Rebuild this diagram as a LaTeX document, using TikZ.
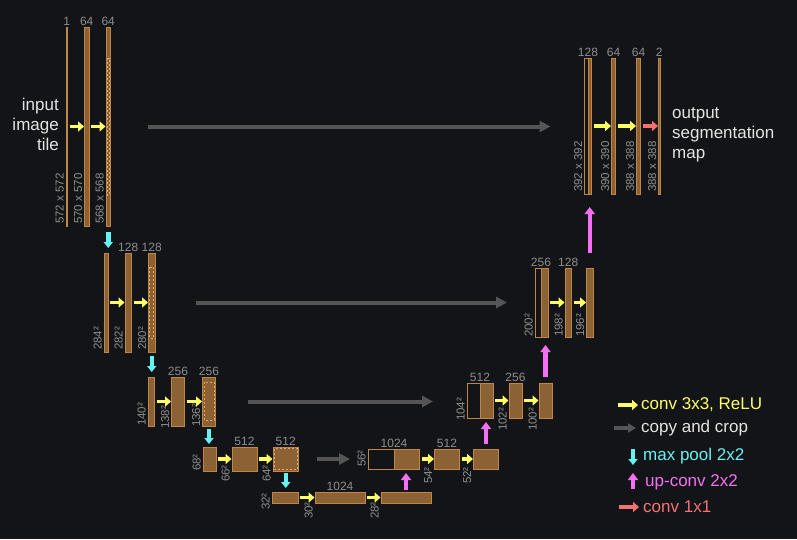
\documentclass[tikz,border=0pt]{standalone}
\usepackage{fontspec}
\setmainfont{Liberation Sans}
\usetikzlibrary{arrows.meta,positioning}

\definecolor{bgc}{HTML}{131418}
\definecolor{fillc}{HTML}{8C6234}
\definecolor{edgec}{HTML}{BF8646}
\definecolor{cropc}{HTML}{DDA967}
\definecolor{numc}{HTML}{8E8E8E}
\definecolor{txtc}{HTML}{E4E4E4}
\definecolor{convc}{HTML}{FFFF66}
\definecolor{copyc}{HTML}{555555}
\definecolor{poolc}{HTML}{66F2F2}
\definecolor{upc}{HTML}{F570F0}
\definecolor{outc}{HTML}{F57272}

\begin{document}
\begin{tikzpicture}[x=1pt,y=-1pt,
    fmap/.style 2 args={draw=edgec,fill=fillc,line width=0.8pt,inner sep=0pt,
      outer sep=0pt,minimum width=#1pt,minimum height=#2pt},
    cpy/.style 2 args={draw=edgec,line width=0.8pt,inner sep=0pt,
      outer sep=0pt,minimum width=#1pt,minimum height=#2pt},
    chn/.style={text=numc,font=\fontsize{12}{12}\selectfont,inner sep=1.5pt},
    dim/.style={text=numc,font=\fontsize{11.5}{12}\selectfont,rotate=90,
      anchor=south west,inner sep=2pt},
    txt/.style={text=txtc,font=\fontsize{17}{20}\selectfont,inner sep=0pt},
    crop/.style={draw=cropc,line width=1pt,dash pattern=on 2pt off 2pt},
    conv/.style={-{Triangle[length=6pt,width=10pt]},line width=3.5pt,draw=convc,
      shorten <=2pt,shorten >=0.5pt},
    copyarr/.style={-{Triangle[length=11pt,width=11pt]},line width=4pt,draw=copyc},
    pool/.style={-{Triangle[length=6pt,width=9pt]},line width=4.5pt,draw=poolc},
    upconv/.style={-{Triangle[length=7pt,width=10pt]},line width=4.5pt,draw=upc},
    outconv/.style={-{Triangle[length=6pt,width=10pt]},line width=3.5pt,draw=outc,
      shorten <=2pt,shorten >=0.5pt}]

    \useasboundingbox[fill=bgc] (0,0) rectangle (797,539);

    % contracting path
    \node[fmap={1.5}{199},anchor=west,label={[chn]above:1},
      label={[dim]south west:572 x 572}] (e1a) at (66,126.5) {};
    \node[fmap={4.5}{199},right=17pt of e1a,label={[chn]above:64},
      label={[dim]south west:570 x 570}] (e1b) {};
    \node[fmap={4.5}{199},right=17pt of e1b,label={[chn]above:64},
      label={[dim]south west:568 x 568}] (e1c) {};

    \node[fmap={4}{99},anchor=west,label={[dim]south west:284²}] (e2a) at (104,302.5) {};
    \node[fmap={6.5}{99},right=17pt of e2a,label={[chn]above:128},
      label={[dim]south west:282²}] (e2b) {};
    \node[fmap={6.5}{99},right=17pt of e2b,label={[chn]above:128},
      label={[dim]south west:280²}] (e2c) {};

    \node[fmap={6.5}{49},anchor=west,label={[dim,xshift=-2pt]south west:140²}] (e3a) at (148,401.5) {};
    \node[fmap={13}{49},right=17pt of e3a,label={[chn]above:256},
      label={[dim,xshift=-5pt]south west:138²}] (e3b) {};
    \node[fmap={13}{49},right=18pt of e3b,label={[chn]above:256},
      label={[dim,xshift=-3pt]south west:136²}] (e3c) {};

    \node[fmap={13}{24},anchor=west,label={[dim,xshift=-2pt]south west:68²}] (e4a) at (203,459) {};
    \node[fmap={25}{24},right=16pt of e4a,label={[chn]above:512},
      label={[dim,xshift=-13pt]south west:66²}] (e4b) {};
    \node[fmap={25.5}{24},right=16pt of e4b,label={[chn]above:512},
      label={[dim,xshift=-13pt]south west:64²}] (e4c) {};

    \node[fmap={26}{11},anchor=west,label={[dim,xshift=-9pt]south west:32²}] (e5a) at (272,497.5) {};
    \node[fmap={50}{11},right=17pt of e5a,label={[chn]above:1024},
      label={[dim,xshift=-18pt]south west:30²}] (e5b) {};
    \node[fmap={50}{11},right=16pt of e5b,label={[dim,xshift=-18pt]south west:28²}] (e5c) {};

    % expansive path
    \node[fmap={25.5}{20},anchor=west] (d4a) at (394,459) {};
    \node[cpy={26}{20},left=0pt of d4a,label={[chn,anchor=south]north east:1024},
      label={[dim]south west:56²}] (d4w) {};
    \node[fmap={25}{20},right=15pt of d4a,label={[chn]above:512},
      label={[dim,xshift=-17pt]south west:54²}] (d4b) {};
    \node[fmap={25}{20},right=14pt of d4b,label={[dim,xshift=-17pt]south west:52²}] (d4c) {};

    \node[fmap={13}{35},anchor=west] (d3a) at (480,400.5) {};
    \node[cpy={13}{35},left=0pt of d3a,label={[chn,anchor=south]north east:512},
      label={[dim,xshift=-5pt]south west:104²}] (d3w) {};
    \node[fmap={13}{35},right=16pt of d3a,label={[chn]above:256},
      label={[dim,xshift=-15pt]south west:102²}] (d3b) {};
    \node[fmap={13}{35},right=17pt of d3b,label={[dim,xshift=-15pt]south west:100²}] (d3c) {};

    \node[fmap={7}{69},anchor=west] (d2a) at (541,302.5) {};
    \node[cpy={6}{69},left=0pt of d2a,label={[chn,anchor=south]north east:256},
      label={[dim,xshift=-2pt]south west:200²}] (d2w) {};
    \node[fmap={6.5}{69},right=17pt of d2a,label={[chn]above:128},
      label={[dim,xshift=-2pt]south west:198²}] (d2b) {};
    \node[fmap={6.5}{69},right=15pt of d2b,label={[dim,xshift=-2pt]south west:196²}] (d2c) {};

    \node[fmap={3.5}{136},anchor=west] (d1a) at (588,126) {};
    \node[cpy={3.5}{136},left=0pt of d1a,label={[chn,anchor=south]north east:128},
      label={[dim]south west:392 x 392}] (d1w) {};
    \node[fmap={4}{136},right=20pt of d1a,label={[chn]above:64},
      label={[dim]south west:390 x 390}] (d1b) {};
    \node[fmap={4}{136},right=21pt of d1b,label={[chn]above:64},
      label={[dim]south west:388 x 388}] (d1c) {};
    \node[fmap={1.5}{136},right=18pt of d1c,label={[chn]above:2},
      label={[dim]south west:388 x 388}] (d1d) {};

    \node[txt,align=right,left=7pt of e1a,yshift=2pt] (inp) {input\\image\\tile};
    \node[txt,align=left,right=12pt of d1d,yshift=-9pt] (outp) {output\\segmentation\\map};

    % cropped regions
    \draw[crop] ([xshift=1.2pt,yshift=-31pt]e1c.north west) rectangle ([xshift=-1.2pt,yshift=31pt]e1c.south east);
    \draw[crop] ([xshift=1.3pt,yshift=-14pt]e2c.north west) rectangle ([xshift=-1.3pt,yshift=14pt]e2c.south east);
    \draw[crop] ([xshift=1.5pt,yshift=-5pt]e3c.north west) rectangle ([xshift=-1.5pt,yshift=6pt]e3c.south east);
    \draw[crop] ([xshift=1.5pt,yshift=-1.5pt]e4c.north west) rectangle ([xshift=-1.5pt,yshift=1.5pt]e4c.south east);

    % conv 3x3
    \draw[conv] (e1a) -- (e1b); \draw[conv] (e1b) -- (e1c);
    \draw[conv] (e2a) -- (e2b); \draw[conv] (e2b) -- (e2c);
    \draw[conv] (e3a) -- (e3b); \draw[conv] (e3b) -- (e3c);
    \draw[conv] (e4a) -- (e4b); \draw[conv] (e4b) -- (e4c);
    \draw[conv] (e5a) -- (e5b); \draw[conv] (e5b) -- (e5c);
    \draw[conv] (d4a) -- (d4b); \draw[conv] (d4b) -- (d4c);
    \draw[conv] (d3a) -- (d3b); \draw[conv] (d3b) -- (d3c);
    \draw[conv] (d2a) -- (d2b); \draw[conv] (d2b) -- (d2c);
    \draw[conv] (d1a) -- (d1b); \draw[conv] (d1b) -- (d1c);
    \draw[outconv] (d1c) -- (d1d);

    % max pool
    \draw[pool,shorten <=6pt,shorten >=5pt] (e1c.south) -- (e1c.south |- e2a.north);
    \draw[pool,shorten <=4pt,shorten >=5pt] (e2c.south) -- (e2c.south |- e3a.north);
    \draw[pool,shorten <=3pt,shorten >=3pt] (e3c.south) -- (e3c.south |- e4a.north);
    \draw[pool,shorten <=2pt,shorten >=4pt] (e4c.south) -- (e4c.south |- e5a.north);

    % up-conv
    \draw[upconv,shorten <=2pt,shorten >=4pt] (e5c.north) -- (e5c.north |- d4a.south);
    \draw[upconv,shorten <=5pt,shorten >=4pt] (d4c.north) -- (d4c.north |- d3a.south);
    \draw[upconv,shorten <=6pt,shorten >=8pt] (d3c.north) -- (d3c.north |- d2a.south);
    \draw[upconv,shorten <=15pt,shorten >=13pt] (d2c.north) -- (d2c.north |- d1a.south);

    % copy and crop
    \draw[copyarr,shorten <=37pt,shorten >=34pt] (e1c.east) -- (e1c.east -| d1w.west);
    \draw[copyarr,shorten <=41pt,shorten >=28pt] (e2c.east) -- (e2c.east -| d2w.west);
    \draw[copyarr,shorten <=32pt,shorten >=34pt] (e3c.east) -- (e3c.east -| d3w.west);
    \draw[copyarr,shorten <=18pt,shorten >=18pt] (e4c.east) -- (e4c.east -| d4w.west);

    % legend
    \node[txt,text=convc,anchor=west] (lgconv) at (641,405) {conv 3x3, ReLU};
    \node[txt,anchor=west] (lgcopy) at (641,428) {copy and crop};
    \node[txt,text=poolc,anchor=west] (lgpool) at (643,456) {max pool 2x2};
    \node[txt,text=upc,anchor=west] (lgup) at (645,482) {up-conv 2x2};
    \node[txt,text=outc,anchor=west] (lgout) at (643,507) {conv 1x1};

    \draw[conv,shorten <=0pt,shorten >=0pt] ([xshift=-23pt]lgconv.west) -- ([xshift=-3pt]lgconv.west);
    \draw[copyarr,line width=3.5pt,-{Triangle[length=8pt,width=9pt]}] ([xshift=-27pt]lgcopy.west) -- ([xshift=-5pt]lgcopy.west);
    \draw[pool] ([xshift=-10pt,yshift=7pt]lgpool.west) -- ([xshift=-10pt,yshift=-9pt]lgpool.west);
    \draw[upconv] ([xshift=-12pt,yshift=-7pt]lgup.west) -- ([xshift=-12pt,yshift=9pt]lgup.west);
    \draw[outconv,shorten <=0pt,shorten >=0pt] ([xshift=-24pt]lgout.west) -- ([xshift=-4pt]lgout.west);

\end{tikzpicture}
\end{document}
